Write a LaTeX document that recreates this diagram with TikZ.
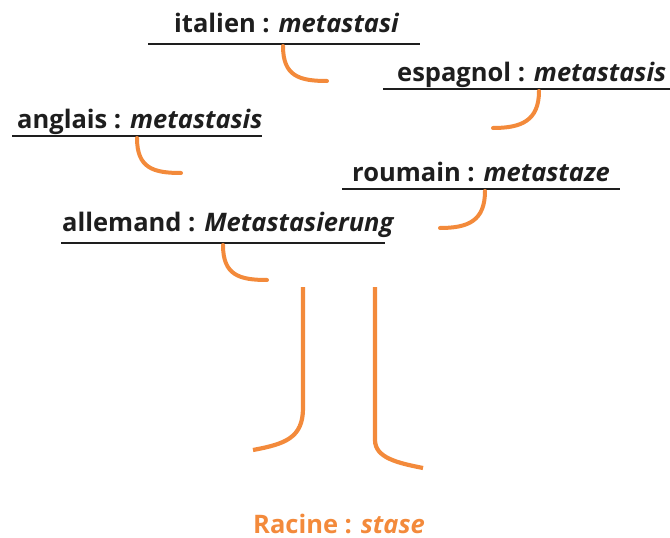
\documentclass[tikz,border=0pt]{standalone}
\usepackage{fontspec}
\usetikzlibrary{calc}
\setmainfont{Open Sans}
\definecolor{ink}{HTML}{1E1E1E}
\definecolor{bark}{HTML}{F38A3B}
\begin{document}
\begin{tikzpicture}[x=1pt,y=-1pt,
  word/.style={anchor=base west,inner sep=0pt,font=\fontsize{25.5}{28}\selectfont\bfseries,text=ink},
  rule/.style={draw=ink,line width=2.4pt},
  twig/.style={draw=bark,line width=4pt,line cap=round},
  trunk/.style={draw=bark,line width=4.2pt}]
\useasboundingbox (0,0) rectangle (670,538);

% labels on the branches
\node[word] (it) at (174,32) {italien : \textit{metastasi}};
\node[word] (es) at (397,81) {espagnol : \textit{metastasis}};
\node[word] (an) at (17,128) {anglais : \textit{metastasis}};
\node[word] (ro) at (352,181) {roumain : \textit{metastaze}};
\node[word] (al) at (62,231) {allemand : \textit{Metastasierung}};
\node[word,text=bark] (root) at (253,533) {Racine : \textit{stase}};

% branch lines under each label
\coordinate (itL) at (148,44);  \coordinate (itR) at (420,44);
\coordinate (esL) at (383,89);  \coordinate (esR) at (670,89);
\coordinate (anL) at (12,136);  \coordinate (anR) at (262,136);
\coordinate (roL) at (342,189); \coordinate (roR) at (620,189);
\coordinate (alL) at (61,243);  \coordinate (alR) at (385,243);
\draw[rule] (itL) -- (itR);
\draw[rule] (esL) -- (esR);
\draw[rule] (anL) -- (anR);
\draw[rule] (roL) -- (roR);
\draw[rule] (alL) -- (alR);

% twigs hanging from the branches
\coordinate (itA) at (283,46);  \coordinate (itB) at (327,81);
\coordinate (esA) at (539,91);  \coordinate (esB) at (493,128);
\coordinate (anA) at (137,138); \coordinate (anB) at (181,173);
\coordinate (roA) at (485,191); \coordinate (roB) at (440,228);
\coordinate (alA) at (223,245); \coordinate (alB) at (267,280);
\draw[twig] (itA) .. controls ($(itA)+(0,30)$) and ($(itB)+(-28,0)$) .. (itB);
\draw[twig] (esA) .. controls ($(esA)+(0,30)$) and ($(esB)+(28,0)$) .. (esB);
\draw[twig] (anA) .. controls ($(anA)+(0,30)$) and ($(anB)+(-28,0)$) .. (anB);
\draw[twig] (roA) .. controls ($(roA)+(0,30)$) and ($(roB)+(28,0)$) .. (roB);
\draw[twig] (alA) .. controls ($(alA)+(0,30)$) and ($(alB)+(-28,0)$) .. (alB);

% trunk
\coordinate (tlT) at (303,287); \coordinate (tlM) at (303,408); \coordinate (tlB) at (253,450);
\coordinate (trT) at (375,287); \coordinate (trM) at (375,440); \coordinate (trB) at (423,468);
\draw[trunk] (tlT) -- (tlM) .. controls (303,438) and (285,444) .. (tlB);
\draw[trunk] (trT) -- (trM) .. controls (375,458) and (398,463) .. (trB);
\end{tikzpicture}
\end{document}
